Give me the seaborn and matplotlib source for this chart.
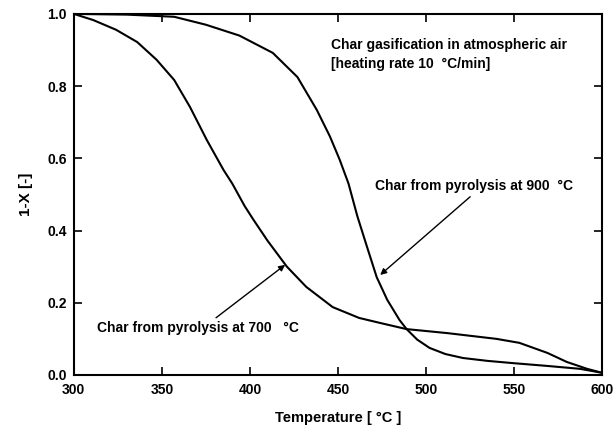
import matplotlib
matplotlib.use("Agg")
import matplotlib.pyplot as plt
import seaborn as sns
import pandas as pd

# ---- data ----
temp_700 = [300, 311, 324, 336, 347, 357, 366, 375.5, 385, 390, 397, 402, 410, 421, 432, 447, 462, 474, 489, 512, 540, 553, 569, 580, 591.5, 600]
conv_700 = [1.0, 0.983, 0.956, 0.922, 0.873, 0.817, 0.742, 0.651, 0.568, 0.53, 0.468, 0.43, 0.372, 0.30, 0.244, 0.188, 0.158, 0.144, 0.127, 0.116, 0.100, 0.089, 0.061, 0.036, 0.017, 0.006]

temp_900 = [300, 330, 357, 375, 394, 413, 427, 438, 445.5, 451, 456, 461, 466.5, 472, 478, 485, 489, 495, 502, 511, 521, 535, 549, 569, 587.5, 600]
conv_900 = [1.0, 0.998, 0.992, 0.97, 0.94, 0.892, 0.825, 0.734, 0.66, 0.596, 0.53, 0.44, 0.355, 0.271, 0.208, 0.152, 0.127, 0.098, 0.075, 0.058, 0.047, 0.039, 0.033, 0.025, 0.017, 0.006]

x_ticks = [300, 350, 400, 450, 500, 550, 600]
y_ticks = [0.0, 0.2, 0.4, 0.6, 0.8, 1.0]

df = pd.concat([
    pd.DataFrame({"T": temp_700, "y": conv_700, "s": "700"}),
    pd.DataFrame({"T": temp_900, "y": conv_900, "s": "900"}),
])

sns.set_style("ticks")
plt.rcParams["font.family"] = ["Liberation Sans", "DejaVu Sans"]
plt.rcParams["text.color"] = "black"
plt.rcParams["axes.labelcolor"] = "black"

fig = plt.figure(figsize=(6.15, 4.34), dpi=100)
ax = fig.add_axes([0.120, 0.136, 0.859, 0.832])

sns.lineplot(data=df, x="T", y="y", units="s", estimator=None, color="black",
             linewidth=1.5, sort=False, ax=ax, legend=False)

ax.set_xlim(300, 600)
ax.set_ylim(0, 1.0)
ax.set_xticks(x_ticks)
ax.set_yticks(y_ticks)
ax.set_xticklabels([str(t) for t in x_ticks], fontsize=10, fontweight="bold")
ax.set_yticklabels([f"{t:.1f}" for t in y_ticks], fontsize=10, fontweight="bold")
ax.tick_params(direction="in", top=True, right=True, length=6, width=1.2,
               colors="black", labelcolor="black")
ax.tick_params(axis="x", pad=6)
ax.tick_params(axis="y", pad=5)
for sp in ax.spines.values():
    sp.set_visible(True)
    sp.set_linewidth(1.5)
    sp.set_color("black")

ax.set_xlabel("Temperature [ °C ]", fontsize=10.5, fontweight="bold", labelpad=10)
ax.set_ylabel("1-X [-]", fontsize=11, fontweight="bold", labelpad=10)

tkw = dict(fontsize=10, fontweight="bold", color="black")
ax.text(446, 0.915, "Char gasification in atmospheric air", va="center", ha="left", **tkw)
ax.text(446, 0.86, "[heating rate 10  °C/min]", va="center", ha="left", **tkw)

ax.annotate("Char from pyrolysis at 900  °C", xy=(474, 0.277), xytext=(471, 0.522),
            ha="left", va="center",
            arrowprops=dict(arrowstyle="-|>", color="black", lw=1.0, mutation_scale=9,
                            shrinkA=0, shrinkB=0, relpos=(0.5, 0.0)), **tkw)
ax.annotate("Char from pyrolysis at 700   °C", xy=(420, 0.305), xytext=(313, 0.13),
            ha="left", va="center",
            arrowprops=dict(arrowstyle="-|>", color="black", lw=1.0, mutation_scale=9,
                            shrinkA=0, shrinkB=0, relpos=(0.57, 1.0)), **tkw)

fig.savefig("out.png", dpi=100)
